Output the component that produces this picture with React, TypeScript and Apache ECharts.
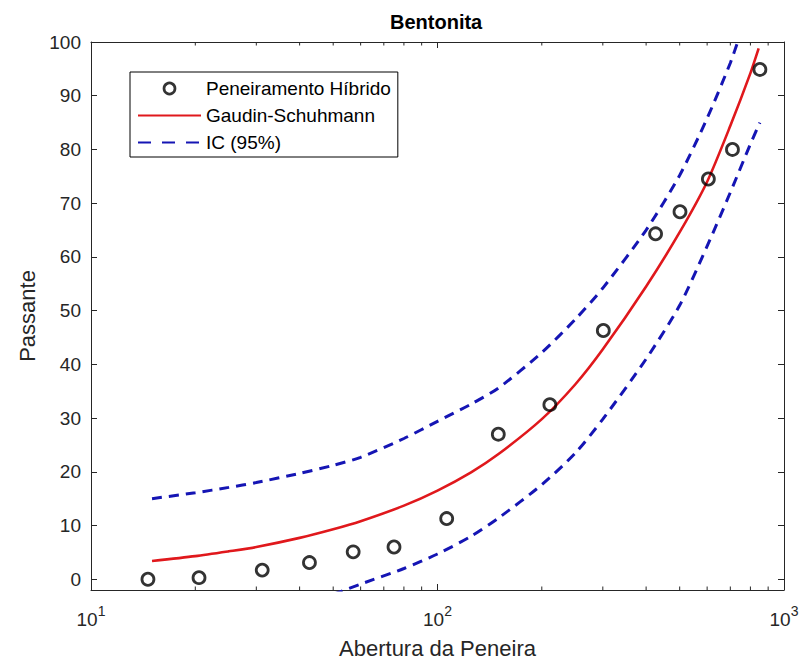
import React, { useEffect, useRef } from 'react';
import * as echarts from 'echarts';

// Measured points (Peneiramento Híbrido)
const hybridX = [14.6, 20.5, 31.2, 42.7, 57.1, 74.9, 106.3, 149.8, 211, 301, 426, 501, 605, 710, 852];
const hybridY = [0.0, 0.3, 1.7, 3.1, 5.1, 6.0, 11.3, 27.0, 32.5, 46.3, 64.3, 68.4, 74.5, 80.0, 94.9];

// Gaudin-Schuhmann fitted curve
const gsX = [15, 20, 25, 30, 40, 50, 60, 80, 100, 125, 150, 200, 250, 300, 400, 500, 600, 700, 800, 845];
const gsY = [3.4, 4.3, 5.2, 6.0, 7.7, 9.3, 10.8, 13.7, 16.5, 19.9, 23.3, 29.8, 36.3, 42.8, 54.5, 64.6, 74.0, 84.4, 94.2, 98.8];

// IC (95%) upper bound
const icUpperX = [15, 20, 25, 30, 40, 50, 60, 80, 100, 125, 150, 200, 250, 300, 400, 500, 600, 700, 740];
const icUpperY = [15.0, 16.1, 17.1, 18.0, 19.7, 21.2, 22.7, 26.2, 29.4, 32.6, 35.6, 42.2, 48.4, 54.2, 65.0, 75.2, 85.8, 96.1, 100.6];

// IC (95%) lower bound
const icLowerX = [50, 60, 80, 100, 125, 150, 200, 250, 300, 400, 500, 600, 700, 800, 852];
const icLowerY = [-2.8, -0.9, 2.0, 4.7, 8.0, 11.4, 17.6, 23.5, 29.8, 41.0, 51.0, 62.0, 72.0, 81.0, 85.0];

const xMinorTicks = [20, 30, 40, 50, 60, 70, 80, 90, 200, 300, 400, 500, 600, 700, 800, 900];
const yTicks = [0, 10, 20, 30, 40, 50, 60, 70, 80, 90, 100];

const X_MIN = 10;
const X_MAX = 1000;
const Y_MIN = -2;
const Y_MAX = 100;

const FONT = '"Liberation Sans", Arial, Helvetica, sans-serif';
const INK = '#262626';
const RED = '#e0181c';
const BLUE = '#1515b4';

const zip = (xs: number[], ys: number[]) => xs.map((x, i) => [x, ys[i]]);

export default function App() {
  const ref = useRef<HTMLDivElement>(null);

  useEffect(() => {
    const chart = echarts.init(ref.current!, null, { renderer: 'svg' });

    const axisLine = { show: true, onZero: false, lineStyle: { color: INK, width: 1 } };
    const dashed = [10, 7];

    const option: any = {
      animation: false,
      backgroundColor: '#ffffff',
      textStyle: { fontFamily: FONT },
      title: {
        text: 'Bentonita',
        left: 390,
        top: 12,
        padding: 0,
        textStyle: { fontFamily: FONT, fontSize: 20, fontWeight: 'bold', color: '#000' },
      },
      grid: { left: 91, top: 42, right: 19, bottom: 76, containLabel: false },
      legend: {
        data: [
          {
            name: 'Peneiramento Híbrido',
            itemStyle: { color: 'rgba(0,0,0,0)', borderColor: '#000', borderWidth: 2.7 },
          },
          { name: 'Gaudin-Schuhmann', itemStyle: { opacity: 0 } },
          { name: 'IC (95%)', itemStyle: { opacity: 0 }, lineStyle: { type: [13, 11] } },
        ],
        orient: 'vertical',
        left: 130,
        top: 72,
        itemWidth: 63,
        itemHeight: 11,
        itemGap: 8,
        itemTextGap: 5,
        padding: [7, 7, 5, 7],
        borderColor: '#000',
        borderWidth: 1,
        borderRadius: 0,
        backgroundColor: '#fff',
        textStyle: { fontFamily: FONT, fontSize: 19, color: '#000', lineHeight: 18 },
      },
      xAxis: [
        {
          type: 'log',
          logBase: 10,
          min: X_MIN,
          max: X_MAX,
          position: 'bottom',
          axisLine,
          axisTick: { show: true, inside: true, length: 6, lineStyle: { color: INK } },
          splitLine: { show: false },
          axisLabel: {
            margin: 14,
            color: INK,
            fontFamily: FONT,
            formatter: (v: number) => `{b|10}{e|${Math.round(Math.log10(v))}}`,
            rich: {
              b: { fontSize: 19, lineHeight: 25, verticalAlign: 'bottom', color: INK, fontFamily: FONT },
              e: { fontSize: 14, lineHeight: 25, verticalAlign: 'top', color: INK, fontFamily: FONT },
            },
          },
          name: 'Abertura da Peneira',
          nameLocation: 'middle',
          nameGap: 47,
          nameTextStyle: { fontFamily: FONT, fontSize: 22, color: INK },
        },
        {
          type: 'log',
          logBase: 10,
          min: X_MIN,
          max: X_MAX,
          position: 'top',
          axisLine,
          axisTick: { show: true, inside: true, length: 6, lineStyle: { color: INK } },
          splitLine: { show: false },
          axisLabel: { show: false },
        },
      ],
      yAxis: [
        {
          type: 'value',
          min: Y_MIN,
          max: Y_MAX,
          position: 'left',
          axisLine,
          axisTick: { show: true, inside: true, length: 6, customValues: yTicks, lineStyle: { color: INK } },
          splitLine: { show: false },
          axisLabel: { customValues: yTicks, fontSize: 19, color: INK, fontFamily: FONT, margin: 10 },
          name: 'Passante',
          nameLocation: 'middle',
          nameGap: 53,
          nameRotate: 90,
          nameTextStyle: { fontFamily: FONT, fontSize: 22, color: INK },
        },
        {
          type: 'value',
          min: Y_MIN,
          max: Y_MAX,
          position: 'right',
          axisLine,
          axisTick: { show: true, inside: true, length: 6, customValues: yTicks, lineStyle: { color: INK } },
          splitLine: { show: false },
          axisLabel: { show: false },
        },
      ],
      series: [
        {
          type: 'custom',
          name: 'minorTicks',
          xAxisIndex: 0,
          yAxisIndex: 0,
          silent: true,
          clip: false,
          z: 1,
          data: xMinorTicks.map((v) => [v, Y_MIN]),
          encode: { x: 0, y: 1 },
          renderItem: (_params: any, api: any) => {
            const x = api.value(0);
            const b = api.coord([x, Y_MIN]);
            const t = api.coord([x, Y_MAX]);
            return {
              type: 'group',
              children: [
                { type: 'line', shape: { x1: b[0], y1: b[1], x2: b[0], y2: b[1] - 3.5 }, style: { stroke: INK, lineWidth: 1 } },
                { type: 'line', shape: { x1: t[0], y1: t[1], x2: t[0], y2: t[1] + 3.5 }, style: { stroke: INK, lineWidth: 1 } },
              ],
            };
          },
        },
        {
          type: 'line',
          name: 'IC (95%)',
          data: zip(icUpperX, icUpperY),
          smooth: 0.25,
          symbol: 'none',
          showSymbol: false,
          clip: true,
          lineStyle: { color: BLUE, width: 3, type: dashed },
          itemStyle: { color: BLUE },
          z: 2,
        },
        {
          type: 'line',
          name: 'IC (95%)',
          data: zip(icLowerX, icLowerY),
          smooth: 0.25,
          symbol: 'none',
          showSymbol: false,
          clip: true,
          lineStyle: { color: BLUE, width: 3, type: dashed },
          itemStyle: { color: BLUE },
          z: 2,
        },
        {
          type: 'line',
          name: 'Gaudin-Schuhmann',
          data: zip(gsX, gsY),
          smooth: 0.25,
          symbol: 'none',
          showSymbol: false,
          clip: true,
          lineStyle: { color: RED, width: 2.6 },
          itemStyle: { color: RED },
          z: 3,
        },
        {
          type: 'scatter',
          name: 'Peneiramento Híbrido',
          data: zip(hybridX, hybridY),
          symbol: 'circle',
          symbolSize: 12,
          itemStyle: { color: 'rgba(0,0,0,0)', borderColor: '#000', borderWidth: 2.8 },
          z: 4,
        },
      ],
    };

    chart.setOption(option);
    return () => chart.dispose();
  }, []);

  return (
    <div
      ref={ref}
      style={{ position: 'fixed', left: 0, top: 0, width: 803, height: 666, background: '#fff' }}
    />
  );
}
